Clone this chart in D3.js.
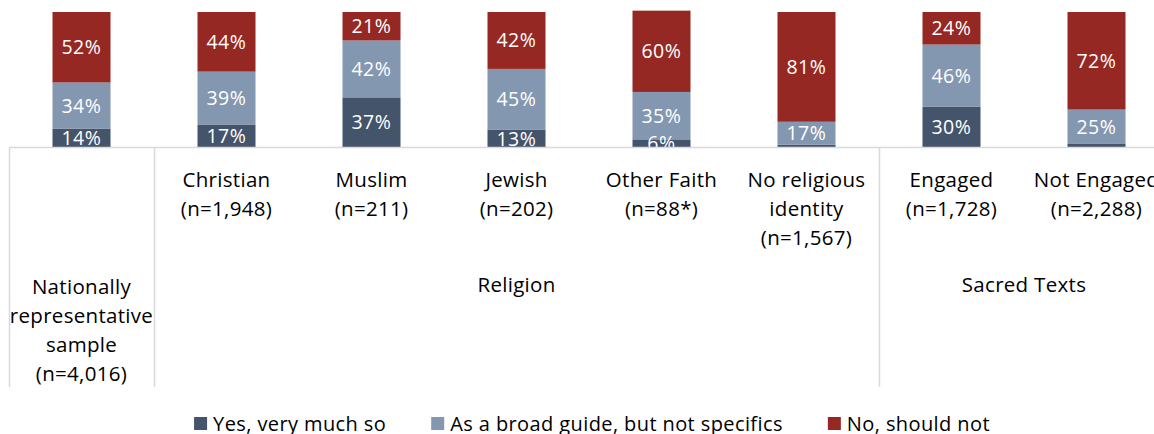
<!DOCTYPE html>
<html>
<head>
<meta charset="utf-8">
<script src="https://cdn.jsdelivr.net/npm/d3@7/dist/d3.min.js"></script>
<style>
  html, body { margin: 0; padding: 0; background: #fff; overflow: hidden; }
  svg { display: block; font-family: "Open Sans", "Noto Sans", sans-serif; }
</style>
</head>
<body>
<svg id="chart" width="1154" height="434"></svg>
<script>
// Categories (x axis), with their wrapped label lines
const categories = ["National", "Christian", "Muslim", "Jewish", "Other Faith", "No religious identity", "Engaged", "Not Engaged"];
const categoryLines = [
  ["Nationally", "representative", "sample", "(n=4,016)"],
  ["Christian", "(n=1,948)"],
  ["Muslim", "(n=211)"],
  ["Jewish", "(n=202)"],
  ["Other Faith", "(n=88*)"],
  ["No religious", "identity", "(n=1,567)"],
  ["Engaged", "(n=1,728)"],
  ["Not Engaged", "(n=2,288)"]
];
// Outer grouping of the categories
const groupNames = ["", "Religion", "Sacred Texts"];
const groupStart = [0, 1, 6];
const groupEnd = [0, 5, 7];

// Series values (percent)
const seriesNames = ["Yes, very much so", "As a broad guide, but not specifics", "No, should not"];
const yesVeryMuch = [14, 17, 37, 13, 6, 2, 30, 3];
const broadGuide = [34, 39, 42, 45, 35, 17, 46, 25];
const shouldNot = [52, 44, 21, 42, 60, 81, 24, 72];
const seriesColors = ["#44546a", "#8497b0", "#952822"];

const svg = d3.select("#chart");
const axisY = 147.5;

const x = d3.scaleBand()
  .domain(categories)
  .range([9, 1169])
  .paddingInner(0.6)
  .paddingOuter(0.3);
const step = x.step();
const bw = x.bandwidth();
const bandLeft = c => x(c) - (step - bw) / 2;

const y = d3.scaleLinear().domain([0, 100]).range([axisY, 12]);

const table = categories.map((c, i) => ({ cat: c, v: [yesVeryMuch[i], broadGuide[i], shouldNot[i]] }));
const stacked = d3.stack().keys([0, 1, 2]).value((d, k) => d.v[k])(table);

svg.append("defs").append("clipPath").attr("id", "plotClip")
  .append("rect").attr("x", 0).attr("y", 0).attr("width", 1154).attr("height", axisY);

const layers = svg.append("g").selectAll("g.layer")
  .data(stacked).join("g").attr("class", "layer")
  .attr("fill", d => seriesColors[d.key]);

layers.selectAll("rect")
  .data(d => d)
  .join("rect")
  .attr("x", d => x(d.data.cat))
  .attr("width", bw)
  .attr("y", d => y(d[1]))
  .attr("height", d => y(d[0]) - y(d[1]));

// Value labels, clipped to the plot area
const labelG = svg.append("g").attr("clip-path", "url(#plotClip)");
stacked.forEach(s => {
  labelG.selectAll(null)
    .data(s.filter(d => d[1] - d[0] >= 5))
    .join("text")
    .attr("x", d => x(d.data.cat) + bw / 2)
    .attr("y", d => (y(d[0]) + y(d[1])) / 2)
    .attr("dy", "0.36em")
    .attr("text-anchor", "middle")
    .attr("fill", "#fff")
    .attr("font-size", 19.5)
    .attr("letter-spacing", 0.6)
    .text(d => (d[1] - d[0]) + "%");
});

// Category axis lines
const axisColor = "#d9d9d9";
const bottomY = 387;
svg.append("line")
  .attr("x1", bandLeft(categories[0])).attr("x2", 1169)
  .attr("y1", axisY).attr("y2", axisY)
  .attr("stroke", axisColor).attr("stroke-width", 1.5);
const sepX = groupStart.map(i => bandLeft(categories[i])).concat([1169]);
svg.append("g").selectAll("line")
  .data(sepX).join("line")
  .attr("x1", d => Math.round(d) + 0.5).attr("x2", d => Math.round(d) + 0.5)
  .attr("y1", axisY).attr("y2", bottomY)
  .attr("stroke", axisColor).attr("stroke-width", 1.5);

// Category labels
const lineH = 29;
const catG = svg.append("g").attr("font-size", 20.5).attr("letter-spacing", 0.3)
  .attr("fill", "#000").attr("text-anchor", "middle");
categories.forEach((c, i) => {
  const lines = categoryLines[i];
  const top = i === 0 ? 287 : 180;
  lines.forEach((t, j) => {
    catG.append("text")
      .attr("x", x(c) + bw / 2)
      .attr("y", top + j * lineH)
      .attr("dy", "0.36em")
      .text(t);
  });
});

// Group labels
groupNames.forEach((g, i) => {
  if (!g) return;
  const x0 = bandLeft(categories[groupStart[i]]);
  const x1 = bandLeft(categories[groupEnd[i]]) + step;
  catG.append("text")
    .attr("x", (x0 + x1) / 2)
    .attr("y", 285)
    .attr("dy", "0.36em")
    .text(g);
});

// Legend
const legend = svg.append("g");
let lx = 0;
seriesNames.forEach((name, i) => {
  const item = legend.append("g").attr("transform", `translate(${lx},0)`);
  item.append("rect").attr("x", 0).attr("y", 417).attr("width", 13).attr("height", 13)
    .attr("fill", seriesColors[i]);
  const t = item.append("text").attr("x", 19).attr("y", 423.5).attr("dy", "0.36em")
    .attr("font-size", 20).attr("letter-spacing", 0.4).attr("fill", "#000").text(name);
  lx += 19 + t.node().getComputedTextLength() + 45;
});
const legendW = lx - 45;
legend.attr("transform", `translate(${592 - legendW / 2},0)`);
</script>
</body>
</html>
